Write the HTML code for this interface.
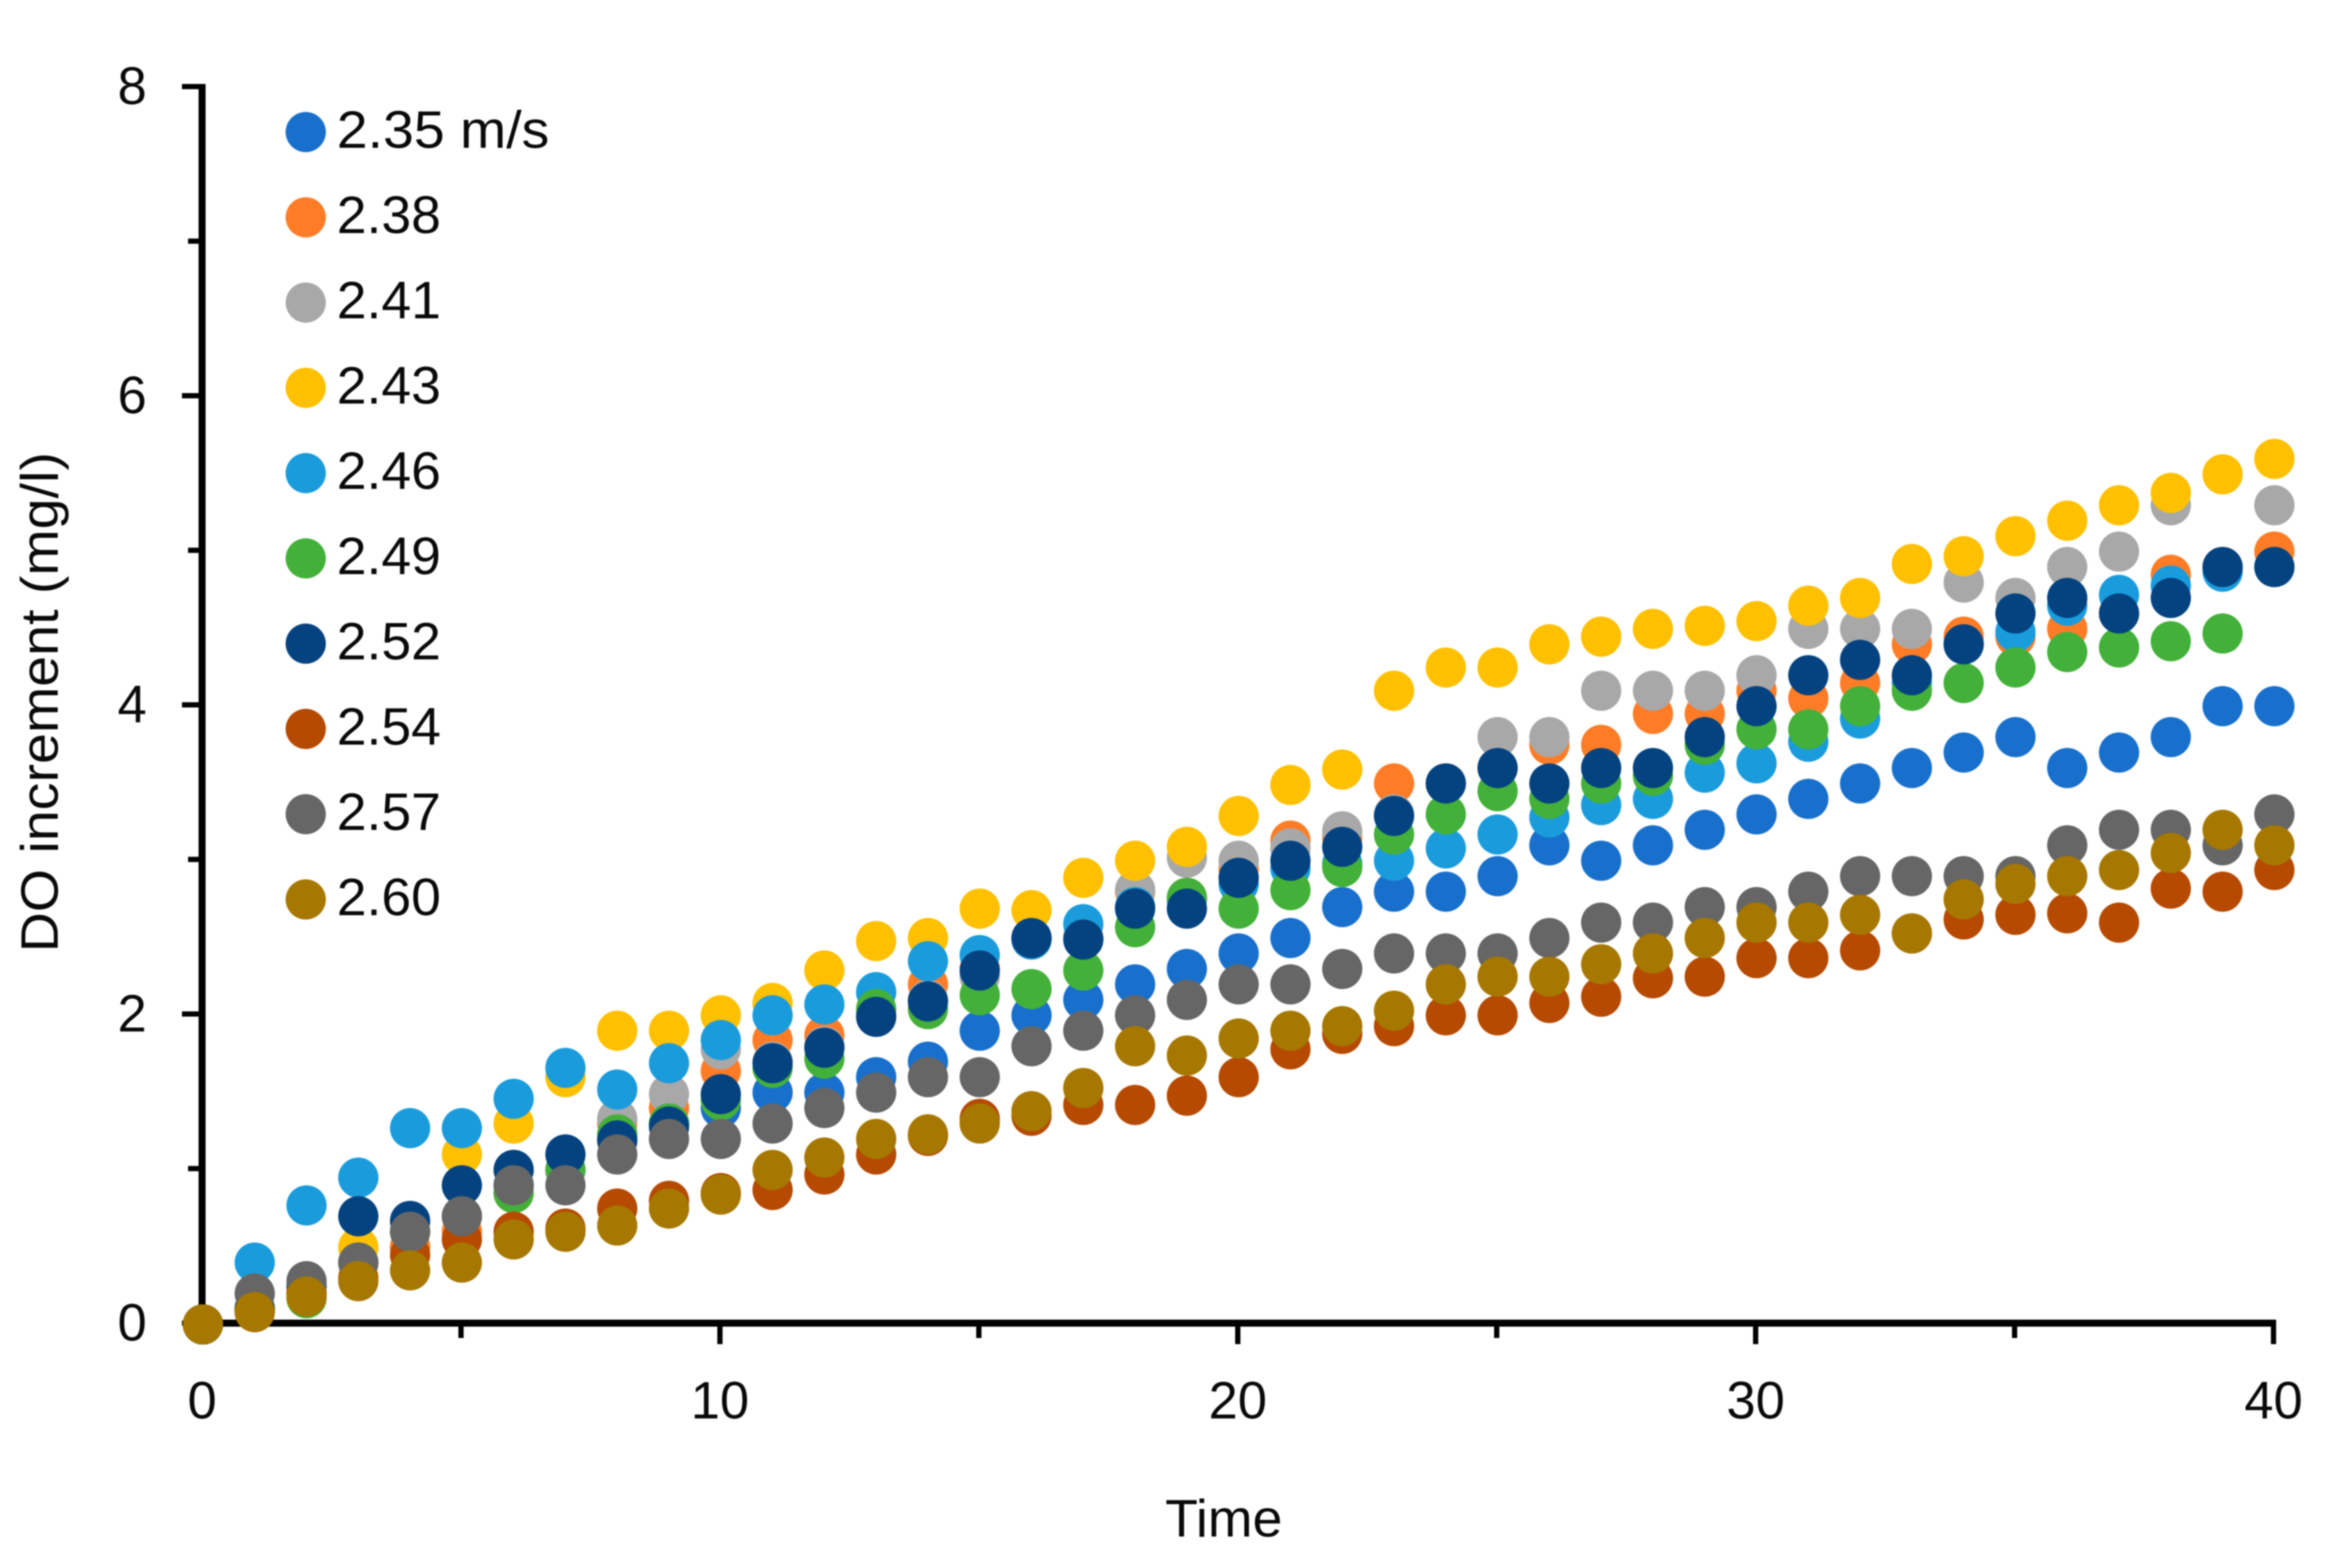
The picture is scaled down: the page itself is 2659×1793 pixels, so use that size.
<!DOCTYPE html>
<html lang="en">
<head>
<meta charset="utf-8">
<title>DO increment over time</title>
<style>
html,body{margin:0;padding:0;background:#fff;}
svg{display:block;filter:blur(0.7px);}
text{font-family:"Liberation Sans",sans-serif;fill:#0a0a0a;}
</style>
</head>
<body>
<svg id="chart" xmlns="http://www.w3.org/2000/svg" width="2659" height="1793" viewBox="0 0 2659 1793">
  <rect x="0" y="0" width="2659" height="1793" fill="#ffffff"/>
  <g id="axes"></g>
  <g id="marks" transform="translate(1 1.5)"></g>
  <g id="legend"></g>
  <text x="1399" y="1757" font-size="60" text-anchor="middle" textLength="134" lengthAdjust="spacingAndGlyphs">Time</text>
  <text x="0" y="0" font-size="60" text-anchor="middle" textLength="572" lengthAdjust="spacingAndGlyphs" transform="translate(66 803) rotate(-90)">DO increment (mg/l)</text>
</svg>
<script>
const times = [0,1,2,3,4,5,6,7,8,9,10,11,12,13,14,15,16,17,18,19,20,21,22,23,24,25,26,27,28,29,30,31,32,33,34,35,36,37,38,39,40];
const s235 = [0,.1,.2,.4,.5,.7,.9,1.0,1.2,1.3,1.4,1.5,1.5,1.6,1.7,1.9,2.0,2.1,2.2,2.3,2.4,2.5,2.7,2.8,2.8,2.9,3.1,3.0,3.1,3.2,3.3,3.4,3.5,3.6,3.7,3.8,3.6,3.7,3.8,4.0,4.0];
const s238 = [0,.1,.2,.4,.5,.6,.85,1.0,1.3,1.4,1.64,1.84,1.87,2.0,2.2,2.3,2.5,2.5,2.8,2.76,2.95,3.13,3.15,3.5,3.5,3.6,3.75,3.75,3.95,3.95,4.1,4.05,4.15,4.4,4.45,4.45,4.5,4.6,4.85,4.9,5.0];
const s241 = [0,.1,.2,.4,.6,.7,.9,1.0,1.33,1.49,1.78,1.7,1.8,2.0,2.1,2.25,2.5,2.5,2.81,3.02,3.0,3.08,3.19,3.3,3.5,3.8,3.8,4.1,4.1,4.1,4.2,4.5,4.5,4.5,4.8,4.7,4.9,5.0,5.3,4.9,5.3];
const s243 = [0,.1,.2,.5,.6,1.1,1.3,1.6,1.9,1.9,2.0,2.08,2.29,2.48,2.5,2.69,2.68,2.89,3.0,3.09,3.29,3.49,3.59,4.1,4.25,4.25,4.4,4.45,4.5,4.52,4.55,4.65,4.7,4.92,4.97,5.1,5.2,5.3,5.38,5.5,5.6];
const s246 = [0,.4,.77,.95,1.27,1.27,1.46,1.66,1.52,1.69,1.84,2.0,2.07,2.15,2.35,2.39,2.49,2.59,2.7,2.75,2.85,2.95,2.98,3.0,3.08,3.17,3.28,3.36,3.4,3.57,3.63,3.77,3.92,4.15,4.4,4.48,4.65,4.72,4.78,4.87,4.9];
const s249 = [0,.1,.17,.4,.6,.7,.85,1.0,1.23,1.3,1.45,1.66,1.72,2.04,2.04,2.13,2.17,2.29,2.57,2.76,2.69,2.81,2.96,3.17,3.3,3.45,3.4,3.5,3.55,3.75,3.85,3.85,4.0,4.1,4.15,4.25,4.35,4.38,4.42,4.47,null];
const s252 = [0,.1,.25,.7,.67,.9,1.0,1.1,1.19,1.28,1.49,1.69,1.79,1.99,2.09,2.29,2.5,2.49,2.69,2.69,2.89,3.0,3.09,3.29,3.5,3.6,3.5,3.6,3.6,3.8,4.0,4.2,4.3,4.2,4.4,4.6,4.7,4.6,4.7,4.9,4.9];
const s254 = [0,.08,.2,.3,.45,.55,.6,.62,.75,.8,.85,.87,.97,1.1,1.22,1.33,1.35,1.42,1.42,1.48,1.6,1.78,1.88,1.93,2.0,2.0,2.08,2.12,2.24,2.25,2.37,2.37,2.42,2.53,2.62,2.65,2.66,2.6,2.82,2.8,2.94];
const s257 = [0,.2,.28,.4,.6,.7,.9,.9,1.1,1.2,1.2,1.3,1.4,1.5,1.6,1.6,1.8,1.9,2.0,2.1,2.2,2.2,2.3,2.4,2.4,2.4,2.5,2.6,2.6,2.7,2.7,2.8,2.9,2.9,2.9,2.9,3.1,3.2,3.2,3.1,3.3];
const s260 = [0,.08,.18,.28,.35,.4,.55,.6,.64,.75,.84,1.0,1.08,1.2,1.23,1.3,1.38,1.53,1.8,1.74,1.85,1.9,1.93,2.03,2.2,2.25,2.25,2.33,2.4,2.5,2.6,2.6,2.65,2.53,2.75,2.85,2.9,2.94,3.05,3.2,3.1];
const seriesValues = [s235,s238,s241,s243,s246,s249,s252,s254,s257,s260];
const seriesLabels = ["2.35 m/s","2.38","2.41","2.43","2.46","2.49","2.52","2.54","2.57","2.60"];
const seriesColors = ["#1870CC","#FF7C26","#A8A8A8","#FFC000","#1A9CDC","#43B03A","#044380","#B54A00","#666666","#A67800"];
const xTicks = [0,5,10,15,20,25,30,35,40];
const xTickLabels = ["0","10","20","30","40"];
const yTicks = [0,1,2,3,4,5,6,7,8];
const yTickLabels = ["0","2","4","6","8"];

const NS = "http://www.w3.org/2000/svg";
const xScale = v => 231 + (v / 40) * 2368;
const yScale = v => 1513 - (v / 8) * 1414;
const marks = document.getElementById("marks");
const axes = document.getElementById("axes");
const legend = document.getElementById("legend");

function makeEl(tag, attrs, parent) {
  const el = document.createElementNS(NS, tag);
  for (const k in attrs) el.setAttribute(k, attrs[k]);
  parent.appendChild(el);
  return el;
}

// axis lines
const yAxisLine = makeEl("line", {x1:xScale(0), x2:xScale(0), y1:yScale(8)-3, y2:yScale(0)+3, stroke:"#000", "stroke-width":8}, axes);


const xAxisLine = makeEl("line", {x1:xScale(0), x2:xScale(40)+3, y1:yScale(0), y2:yScale(0), stroke:"#000", "stroke-width":8}, axes);



// x ticks
xTicks.forEach(t => {
  const isMajor = t % 10 === 0;
  const tick = makeEl("line", {x1:xScale(t), x2:xScale(t), y1:yScale(0), y2:yScale(0) + (isMajor ? 24 : 17), stroke:"#000", "stroke-width":6}, axes);
  
  
});
xTickLabels.forEach(lbl => {
  const label = makeEl("text", {x:xScale(Number(lbl)), y:1622, "font-size":60, "text-anchor":"middle"}, axes);
  label.textContent = lbl;
  
  
});

// y ticks
yTicks.forEach(v => {
  const isMajor = v % 2 === 0;
  const tick = makeEl("line", {x1:xScale(0) - (isMajor ? 23 : 16), x2:xScale(0), y1:yScale(v), y2:yScale(v), stroke:"#000", "stroke-width":6}, axes);
  
  
});
yTickLabels.forEach(lbl => {
  const label = makeEl("text", {x:151, y:yScale(Number(lbl)) + 20, "font-size":60, "text-anchor":"middle"}, axes);
  label.textContent = lbl;
  
  
});

// data marks
seriesValues.forEach((vals, si) => {
  const group = makeEl("g", {fill:seriesColors[si]}, marks);
  
  
  vals.forEach((v, i) => {
    if (v === null) return;
    const dot = makeEl("circle", {cx:xScale(times[i]), cy:yScale(v), r:23}, group);
    
    
  });
});

// legend
seriesLabels.forEach((lbl, i) => {
  const cy = 151 + i * 97.5;
  const entry = makeEl("g", {}, legend);
  
  
  const swatch = makeEl("circle", {cx:349.5, cy:cy, r:23, fill:seriesColors[i]}, entry);
  
  
  const text = makeEl("text", {x:385, y:cy + 18, "font-size":60, textLength: i === 0 ? 243 : 119, lengthAdjust:"spacingAndGlyphs"}, entry);
  text.textContent = lbl;
  
  
});
</script>
</body>
</html>
